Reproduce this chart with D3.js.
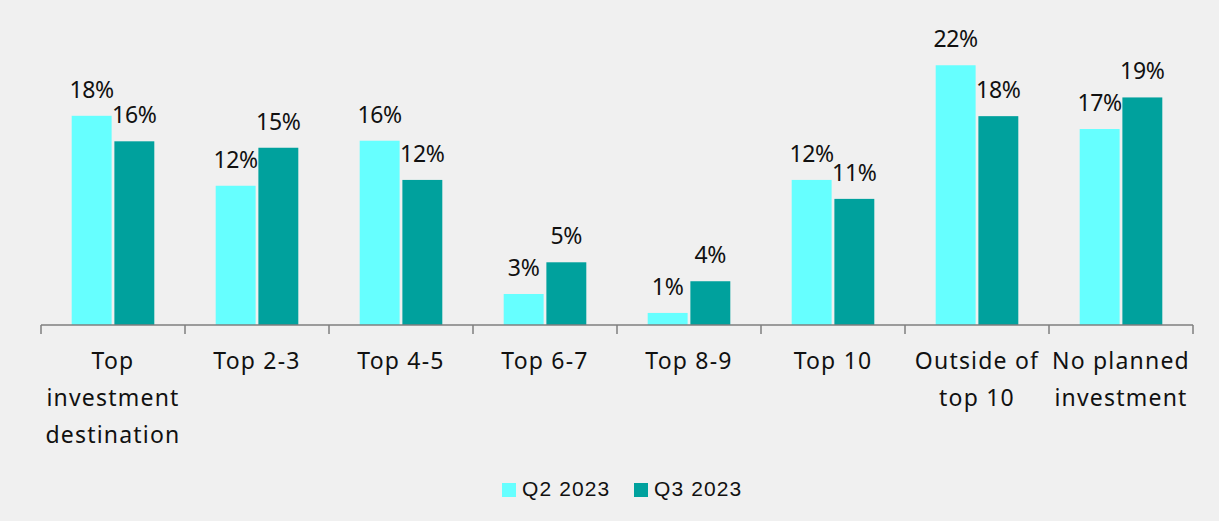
<!DOCTYPE html>
<html>
<head>
<meta charset="utf-8">
<script src="https://cdn.jsdelivr.net/npm/d3@7"></script>
<style>
  html, body { margin: 0; padding: 0; background: #f0f0f0; }
  svg { display: block; }
</style>
</head>
<body>
<svg id="chart" width="1219" height="521"></svg>
<script>
const categories = ["Top\ninvestment\ndestination", "Top 2-3", "Top 4-5", "Top 6-7", "Top 8-9", "Top 10", "Outside of\ntop 10", "No planned\ninvestment"];
const seriesNames = ["Q2 2023", "Q3 2023"];
const q2Values = [17.88, 11.9, 15.75, 2.65, 1.03, 12.4, 22.2, 16.75];
const q3Values = [15.7, 15.15, 12.4, 5.36, 3.74, 10.78, 17.85, 19.45];
const seriesColors = ["#66ffff", "#00a19d"];

const svg = d3.select("#chart");
const W = 1219, H = 521;
svg.append("rect").attr("width", W).attr("height", H).attr("fill", "#f0f0f0");

const x0 = d3.scaleBand().domain(categories).range([41, 1193]).paddingInner(0).paddingOuter(0);
const groupW = 82.6;
const x1 = d3.scaleBand().domain(seriesNames).range([0, groupW]).paddingInner(0.065);
const y = d3.scaleLinear().domain([0, 25]).range([325, 325 - 25 * 11.7]);

const data = categories.map((c, i) => ({ cat: c, vals: [q2Values[i], q3Values[i]] }));

const groups = svg.append("g").selectAll("g").data(data).join("g")
  .attr("transform", d => `translate(${x0(d.cat) + (x0.bandwidth() - groupW) / 2},0)`);

groups.selectAll("rect").data(d => d.vals.map((v, j) => ({ s: seriesNames[j], v, j })))
  .join("rect")
  .attr("x", d => x1(d.s))
  .attr("y", d => y(d.v))
  .attr("width", x1.bandwidth())
  .attr("height", d => y(0) - y(d.v))
  .attr("fill", d => seriesColors[d.j]);

groups.selectAll("text.val").data(d => d.vals.map((v, j) => ({ s: seriesNames[j], v, j })))
  .join("text")
  .attr("class", "val")
  .attr("x", d => x1(d.s) + x1.bandwidth() / 2)
  .attr("y", d => y(d.v) - 18)
  .attr("text-anchor", "middle")
  .attr("font-family", "'Noto Sans', sans-serif")
  .attr("font-size", 23)
  .attr("letter-spacing", -0.3)
  .attr("fill", "#111")
  .text(d => Math.round(d.v) + "%");

// axis
const axis = d3.axisBottom(x0).tickSize(0).tickFormat("");
const axG = svg.append("g").attr("transform", `translate(0,${y(0)})`).call(axis);
axG.select(".domain").attr("stroke", "#7f7f7f").attr("stroke-width", 1.5).attr("d", "M41,0H1193");
const boundaries = categories.map(c => x0(c)).concat([x0.range()[1]]);
axG.selectAll("line.bnd").data(boundaries).join("line")
  .attr("class", "bnd")
  .attr("x1", d => d).attr("x2", d => d)
  .attr("y1", 0).attr("y2", 9)
  .attr("stroke", "#7f7f7f").attr("stroke-width", 1.5);

// category labels
const catLabels = svg.append("g").selectAll("text").data(categories).join("text")
  .attr("x", d => x0(d) + x0.bandwidth() / 2)
  .attr("y", 369)
  .attr("text-anchor", "middle")
  .attr("font-family", "'Noto Sans', sans-serif")
  .attr("font-size", 23)
  .attr("letter-spacing", 1.2)
  .attr("fill", "#111");
catLabels.each(function (d) {
  const t = d3.select(this);
  d.split("\n").forEach((line, i) => {
    t.append("tspan").attr("x", x0(d) + x0.bandwidth() / 2).attr("dy", i === 0 ? 0 : 37).text(line);
  });
});

// legend
const legendX = [502, 634];
const lg = svg.append("g").selectAll("g").data(seriesNames).join("g")
  .attr("transform", (d, i) => `translate(${legendX[i]},483)`);
lg.append("rect").attr("width", 14).attr("height", 14).attr("fill", (d, i) => seriesColors[i]);
lg.append("text").attr("x", 20).attr("y", 13)
  .attr("font-family", "'Liberation Sans', Arial, sans-serif")
  .attr("font-size", 21).attr("letter-spacing", 1.1).attr("fill", "#111")
  .text(d => d);
</script>
</body>
</html>
